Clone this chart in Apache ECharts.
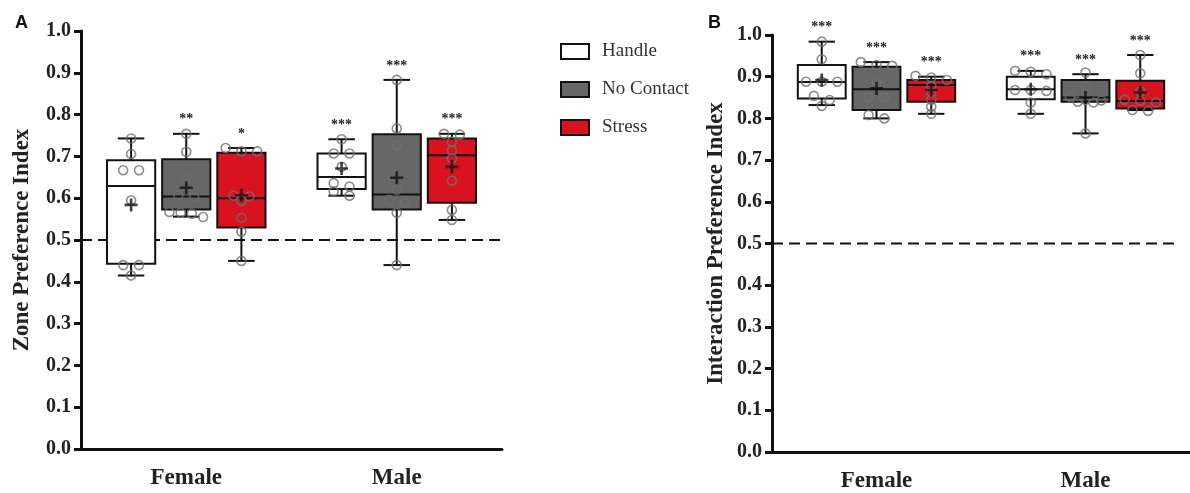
<!DOCTYPE html>
<html>
<head>
<meta charset="utf-8">
<title>Zone / Interaction preference</title>
<script src="https://cdn.jsdelivr.net/npm/echarts@6.0.0/dist/echarts.min.js"></script>
<style>
  html, body { margin: 0; padding: 0; background: #fff; }
  #chart { width: 1190px; height: 493px; }
</style>
</head>
<body>
<div id="chart"></div>
<script>
// ---- data ----
var groups = ['Female', 'Male'];
var conditions = ['Handle', 'No Contact', 'Stress'];

// Panel A: zone preference, [condition][group] -> [min, Q1, median, Q3, max]
var zoneBoxes = [
	[[0.415, 0.443, 0.629, 0.691, 0.743], [0.606, 0.622, 0.651, 0.707, 0.741]],
	[[0.556, 0.573, 0.604, 0.693, 0.754], [0.440, 0.573, 0.609, 0.753, 0.883]],
	[[0.450, 0.530, 0.600, 0.709, 0.720], [0.548, 0.589, 0.703, 0.743, 0.754]]
];
var zoneMeans = [[0.584, 0.671], [0.625, 0.649], [0.607, 0.675]];
var zonePoints = [
	[[0.743, 0.706, 0.667, 0.667, 0.595, 0.440, 0.440, 0.415], [0.741, 0.707, 0.707, 0.675, 0.636, 0.628, 0.616, 0.606]],
	[[0.754, 0.711, 0.648, 0.607, 0.603, 0.567, 0.565, 0.563, 0.555], [0.883, 0.767, 0.727, 0.620, 0.596, 0.589, 0.565, 0.440]],
	[[0.720, 0.712, 0.712, 0.606, 0.604, 0.594, 0.553, 0.520, 0.450], [0.754, 0.752, 0.735, 0.714, 0.695, 0.642, 0.572, 0.548]]
];
var zoneStars = [['', '***'], ['**', '***'], ['*', '***']];

// Panel B: interaction preference
var interBoxes = [
	[[0.832, 0.848, 0.887, 0.928, 0.984], [0.811, 0.846, 0.870, 0.900, 0.914]],
	[[0.800, 0.820, 0.870, 0.924, 0.935], [0.764, 0.840, 0.850, 0.892, 0.906]],
	[[0.811, 0.840, 0.880, 0.892, 0.900], [0.820, 0.824, 0.842, 0.890, 0.952]]
];
var interMeans = [[0.892, 0.870], [0.872, 0.850], [0.868, 0.862]];
var interPoints = [
	[[0.984, 0.942, 0.888, 0.888, 0.888, 0.854, 0.844, 0.830], [0.914, 0.912, 0.906, 0.868, 0.868, 0.866, 0.838, 0.811]],
	[[0.935, 0.928, 0.926, 0.888, 0.851, 0.851, 0.808, 0.800], [0.910, 0.876, 0.852, 0.845, 0.843, 0.840, 0.838, 0.764]],
	[[0.902, 0.898, 0.892, 0.878, 0.862, 0.845, 0.828, 0.811], [0.952, 0.908, 0.865, 0.845, 0.842, 0.838, 0.820, 0.818]]
];
var interStars = [['***', '***'], ['***', '***'], ['***', '***']];

var chanceLevel = 0.5;

// ---- styling ----
var fills = ['#ffffff', '#676767', '#d8121e'];
var offsets = [-0.262, 0, 0.262];   // box centre offset inside a group (category units)
var BOX_W = 0.229;
var INK = '#111';
var SERIF = '"Liberation Serif", "Times New Roman", serif';
var plusPath = 'path://M4,0h2v4h4v2h-4v4h-2v-4h-4v-2h4z';

// simple deterministic spread for near-equal values
function spread(vals) {
	var out = [], i = 0;
	while (i < vals.length) {
		var j = i;
		while (j + 1 < vals.length && Math.abs(vals[j + 1] - vals[i]) < 0.012) j++;
		var n = j - i + 1;
		var step = n > 1 ? Math.min(0.075, 0.16 / (n - 1)) : 0;
		for (var k = 0; k < n; k++) out.push([vals[i + k], (k - (n - 1) / 2) * step]);
		i = j + 1;
	}
	return out;
}

function buildPanel(xIdx, yIdx, boxes, means, points, stars) {
	var list = [];
	conditions.forEach(function(name, c) {
		var boxData = boxes[c].map(function(b, g) { return [g].concat(b); });
		list.push({
			type: 'custom', name: name, xAxisIndex: xIdx, yAxisIndex: yIdx, z: 2,
			itemStyle: { color: fills[c], borderColor: INK },
			encode: { x: 0, y: [1, 2, 3, 4, 5] },
			data: boxData,
			renderItem: function(params, api) {
				var cx = api.value(0) + 0.5 + offsets[c];
				var pMin = api.coord([cx, api.value(1)]);
				var pQ1 = api.coord([cx, api.value(2)]);
				var pMed = api.coord([cx, api.value(3)]);
				var pQ3 = api.coord([cx, api.value(4)]);
				var pMax = api.coord([cx, api.value(5)]);
				var half = api.size([BOX_W, 0])[0] / 2;
				var cap = half * 0.55;
				var x = pMed[0];
				var ls = { stroke: INK, lineWidth: 2 };
				var text = stars[c][api.value(0)];
				return {
					type: 'group',
					children: [
						{ type: 'line', shape: { x1: x, y1: pMax[1], x2: x, y2: pQ3[1] }, style: ls },
						{ type: 'line', shape: { x1: x, y1: pMin[1], x2: x, y2: pQ1[1] }, style: ls },
						{ type: 'line', shape: { x1: x - cap, y1: pMax[1], x2: x + cap, y2: pMax[1] }, style: ls },
						{ type: 'line', shape: { x1: x - cap, y1: pMin[1], x2: x + cap, y2: pMin[1] }, style: ls },
						{ type: 'rect', shape: { x: x - half, y: pQ3[1], width: half * 2, height: pQ1[1] - pQ3[1] },
							style: { fill: fills[c], stroke: INK, lineWidth: 2 } },
						{ type: 'line', shape: { x1: x - half, y1: pMed[1], x2: x + half, y2: pMed[1] }, style: ls },
						{ type: 'text', x: x, y: pMax[1] - 14,
							style: { text: text, fill: '#222', font: 'bold 14px ' + SERIF, align: 'center', verticalAlign: 'middle' } }
					]
				};
			}
		});
		var pts = [];
		points[c].forEach(function(vals, g) {
			spread(vals).forEach(function(p) { pts.push([g + 0.5 + offsets[c] + p[1], p[0]]); });
		});
		list.push({
			type: 'scatter', name: name, xAxisIndex: xIdx, yAxisIndex: yIdx, z: 3,
			symbol: 'circle', symbolSize: 9, clip: false,
			itemStyle: { color: 'rgba(255,255,255,0)', borderColor: '#6f6f6f', borderWidth: 1.6 },
			data: pts
		});
		list.push({
			type: 'scatter', name: name, xAxisIndex: xIdx, yAxisIndex: yIdx, z: 4,
			symbol: plusPath, symbolSize: 13, clip: false,
			itemStyle: { color: INK },
			data: means[c].map(function(m, g) { return [g + 0.5 + offsets[c], m]; })
		});
	});
	return list;
}

function catAxis(grid) {
	return {
		type: 'category', gridIndex: grid, data: groups,
		axisLine: { lineStyle: { color: INK, width: 3 } },
		axisTick: { alignWithLabel: true, length: 8, lineStyle: { width: 3, color: INK } },
		axisLabel: { margin: 18, color: '#222', fontFamily: SERIF, fontWeight: 'bold', fontSize: 23 }
	};
}
function valXAxis(grid) {
	return { type: 'value', gridIndex: grid, min: 0, max: 2, show: false };
}
function yAxis(grid, name, gap) {
	return {
		type: 'value', gridIndex: grid, min: 0, max: 1, interval: 0.1,
		name: name, nameLocation: 'middle', nameGap: gap,
		nameTextStyle: { fontFamily: SERIF, fontWeight: 'bold', fontSize: 23, color: '#222' },
		axisLine: { show: true, lineStyle: { color: INK, width: 3 } },
		axisTick: { show: true, length: 7, lineStyle: { width: 3, color: INK } },
		axisLabel: { margin: 10, color: '#222', fontFamily: SERIF, fontWeight: 'bold', fontSize: 20,
			formatter: function(v) { return v.toFixed(1); } },
		splitLine: { show: false }
	};
}

var series = []
	.concat(buildPanel(1, 0, zoneBoxes, zoneMeans, zonePoints, zoneStars))
	.concat(buildPanel(3, 1, interBoxes, interMeans, interPoints, interStars));

// chance lines
series.push({
	type: 'line', xAxisIndex: 1, yAxisIndex: 0, z: 1, clip: false, symbol: 'none', silent: true,
	lineStyle: { color: INK, width: 2, type: [11, 6] },
	data: [[0, chanceLevel], [2.17, chanceLevel]]
});
series.push({
	type: 'line', xAxisIndex: 3, yAxisIndex: 1, z: 1, clip: false, symbol: 'none', silent: true,
	lineStyle: { color: INK, width: 2, type: [11, 6] },
	data: [[0, chanceLevel], [1.94, chanceLevel]]
});

var chart = echarts.init(document.getElementById('chart'));
chart.setOption({
	animation: false,
	backgroundColor: '#fff',
	title: [
		{ text: 'A', left: 10, top: 9, textStyle: { fontFamily: 'Liberation Sans', fontWeight: 'bold', fontSize: 18, color: '#111' } },
		{ text: 'B', left: 703, top: 9, textStyle: { fontFamily: 'Liberation Sans', fontWeight: 'bold', fontSize: 18, color: '#111' } }
	],
	legend: {
		orient: 'vertical', left: 555, top: 37, itemWidth: 28, itemHeight: 15, itemGap: 19,
		selectedMode: false,
		textStyle: { fontFamily: SERIF, fontSize: 19, color: '#333', padding: [0, 0, 0, 8] },
		data: conditions.map(function(n, c) {
			return { name: n, icon: 'rect', itemStyle: { color: fills[c], borderColor: INK, borderWidth: 2 } };
		})
	},
	grid: [
		{ left: 81, top: 31, width: 421, height: 418 },
		{ left: 772, top: 35, width: 418, height: 417 }
	],
	xAxis: [catAxis(0), valXAxis(0), catAxis(1), valXAxis(1)],
	yAxis: [yAxis(0, 'Zone Preference Index', 47), yAxis(1, 'Interaction Preference Index', 44)],
	series: series
});
</script>
</body>
</html>
